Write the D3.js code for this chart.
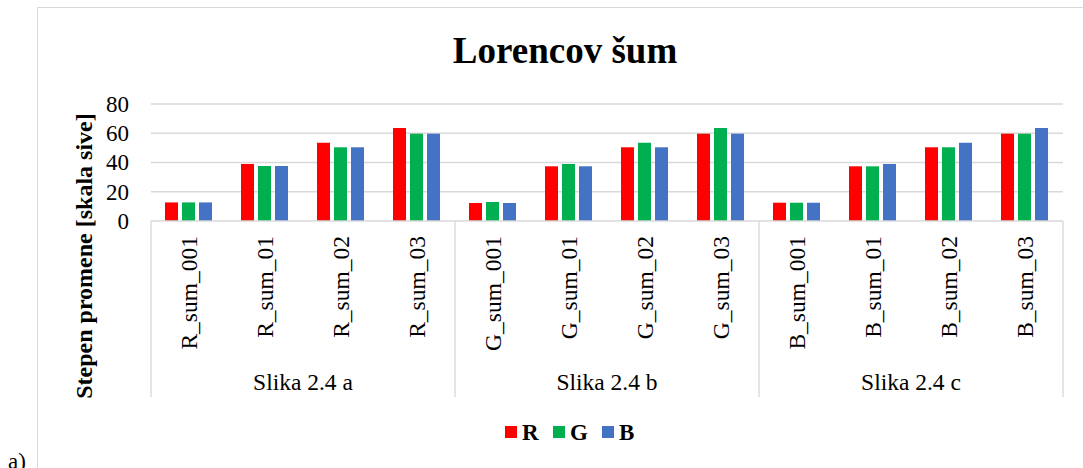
<!DOCTYPE html>
<html>
<head>
<meta charset="utf-8">
<script src="https://cdn.jsdelivr.net/npm/d3@7"></script>
<style>
  body { margin: 0; background: #fff; }
  svg { display: block; }
  svg text { font-family: "Liberation Serif", "Times New Roman", serif; fill: #000; }
</style>
</head>
<body>
<svg width="1083" height="468"></svg>
<script>
var categories = ["R_sum_001", "R_sum_01", "R_sum_02", "R_sum_03",
                  "G_sum_001", "G_sum_01", "G_sum_02", "G_sum_03",
                  "B_sum_001", "B_sum_01", "B_sum_02", "B_sum_03"];
var groups = ["Slika 2.4 a", "Slika 2.4 b", "Slika 2.4 c"];
var seriesNames = ["R", "G", "B"];
var rValues = [12.7, 39, 53.5, 63.6, 12.3, 37.4, 50.4, 59.7, 12.5, 37.4, 50.4, 59.7];
var gValues = [12.7, 37.6, 50.4, 59.7, 13, 39, 53.5, 63.6, 12.5, 37.4, 50.4, 59.7];
var bValues = [12.7, 37.6, 50.4, 59.7, 12.3, 37.4, 50.4, 59.7, 12.5, 39, 53.5, 63.6];
var yTicks = [0, 20, 40, 60, 80];

var colors = { R: "#ff0000", G: "#00b050", B: "#4472c4" };
var gridColor = "#d9d9d9";

var svg = d3.select("svg");

// chart area border
svg.append("rect")
    .attr("x", 37.5).attr("y", 7.5)
    .attr("width", 1100).attr("height", 500)
    .attr("fill", "none").attr("stroke", gridColor);

var plotLeft = 151, plotRight = 1063, plotTop = 104, plotBottom = 221, axisBottom = 397;

var x0 = d3.scaleBand().domain(categories).range([plotLeft, plotRight]);
var xg = d3.scaleBand().domain(groups).range([plotLeft, plotRight]);
var x1 = d3.scaleBand().domain(seriesNames).range([14, 65]);
var y = d3.scaleLinear().domain([0, 80]).range([plotBottom, plotTop]);

// title
svg.append("text")
    .attr("x", 565).attr("y", 63)
    .attr("text-anchor", "middle")
    .style("font-size", "37px").style("font-weight", "bold")
    .text("Lorencov šum");

// gridlines
svg.append("g").selectAll("line")
    .data(yTicks.slice(1))
    .enter().append("line")
    .attr("x1", plotLeft).attr("x2", plotRight)
    .attr("y1", function(d) { return y(d); })
    .attr("y2", function(d) { return y(d); })
    .attr("stroke", gridColor).attr("stroke-width", 1.3);

// y tick labels
svg.append("g").selectAll("text")
    .data(yTicks)
    .enter().append("text")
    .attr("x", 129)
    .attr("y", function(d) { return y(d); })
    .attr("dy", "0.34em")
    .attr("text-anchor", "end")
    .style("font-size", "23px")
    .text(function(d) { return d; });

// y axis title
svg.append("text")
    .attr("transform", "translate(92,256) rotate(-90)")
    .attr("text-anchor", "middle")
    .style("font-size", "24px").style("font-weight", "bold")
    .text("Stepen promene [skala sive]");

// bars
var rows = categories.map(function(c, i) {
    return { cat: c, values: [
        { s: "R", v: rValues[i] }, { s: "G", v: gValues[i] }, { s: "B", v: bValues[i] }
    ] };
});

svg.append("g").selectAll("g")
    .data(rows)
    .enter().append("g")
    .attr("transform", function(d) { return "translate(" + x0(d.cat) + ",0)"; })
    .selectAll("rect")
    .data(function(d) { return d.values; })
    .enter().append("rect")
    .attr("x", function(d) { return x1(d.s); })
    .attr("width", x1.bandwidth() - 4)
    .attr("y", function(d) { return y(d.v); })
    .attr("height", function(d) { return y(0) - y(d.v); })
    .attr("fill", function(d) { return colors[d.s]; });

// category axis lines
var axis = svg.append("g").attr("stroke", gridColor).attr("stroke-width", 1.3);
axis.append("line")
    .attr("x1", plotLeft).attr("x2", plotRight)
    .attr("y1", plotBottom).attr("y2", plotBottom);
axis.selectAll(".sep")
    .data(groups.map(function(g) { return xg(g); }).concat([plotRight]))
    .enter().append("line")
    .attr("x1", function(d) { return d; }).attr("x2", function(d) { return d; })
    .attr("y1", plotBottom).attr("y2", axisBottom);

// category labels
svg.append("g").selectAll("text")
    .data(categories)
    .enter().append("text")
    .attr("transform", function(d) {
        return "translate(" + (x0(d) + x0.bandwidth() / 2 + 8) + ",236) rotate(-90)";
    })
    .attr("text-anchor", "end")
    .style("font-size", "23.5px")
    .text(function(d) { return d; });

// group labels
svg.append("g").selectAll("text")
    .data(groups)
    .enter().append("text")
    .attr("x", function(d) { return xg(d) + xg.bandwidth() / 2; })
    .attr("y", 390)
    .attr("text-anchor", "middle")
    .style("font-size", "23.5px")
    .text(function(d) { return d; });

// legend
var legendX = [505, 553, 602];
var legend = svg.append("g").selectAll("g")
    .data(seriesNames)
    .enter().append("g")
    .attr("transform", function(d, i) { return "translate(" + legendX[i] + ",426)"; });
legend.append("rect")
    .attr("width", 12).attr("height", 12)
    .attr("fill", function(d) { return colors[d]; });
legend.append("text")
    .attr("x", 17).attr("y", 14)
    .style("font-size", "23px").style("font-weight", "bold")
    .text(function(d) { return d; });

// panel letter
svg.append("text")
    .attr("x", 8).attr("y", 469)
    .style("font-size", "23px")
    .text("a)");
</script>
</body>
</html>
